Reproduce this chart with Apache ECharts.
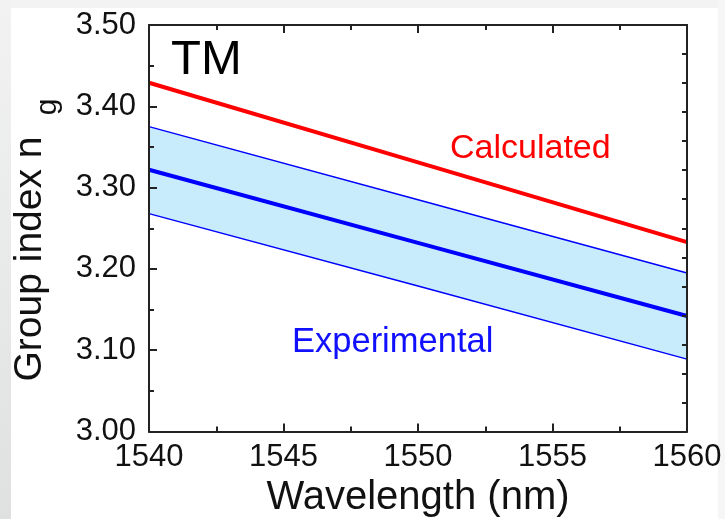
<!DOCTYPE html>
<html>
<head>
<meta charset="utf-8">
<script src="https://cdn.jsdelivr.net/npm/echarts@6/dist/echarts.min.js"></script>
<style>
  html, body { margin: 0; padding: 0; background: #fff; }
  #chart { width: 725px; height: 519px; }
</style>
</head>
<body>
<div id="chart"></div>
<script>
// wavelength (nm)
var wavelengths = [1540, 1550, 1560];
// group index values
var calculated = [3.429, 3.331, 3.233];
var expUpper = [3.375, 3.285, 3.195];
var expCenter = [3.322, 3.232, 3.142];
var expLower = [3.268, 3.179, 3.089];
var xTicks = [1540, 1545, 1550, 1555, 1560];
var yTicks = [3.0, 3.1, 3.2, 3.3, 3.4, 3.5];

var font = "Liberation Sans, Arial, sans-serif";
var axisColor = "#222";

function pairs(ys) {
  return wavelengths.map(function (x, i) {
    return [x, ys[i]];
  });
}

var tickStyle = { color: axisColor, width: 2 };

var chart = echarts.init(document.getElementById("chart"));
var option = {
  backgroundColor: "#fff",
  animation: false,
  grid: { left: 149, right: 38, top: 25, bottom: 87.5, outerBoundsMode: "none" },
  xAxis: [
    {
      type: "value",
      min: xTicks[0],
      max: xTicks[xTicks.length - 1],
      interval: 5,
      position: "bottom",
      z: 5,
      axisLine: { lineStyle: tickStyle },
      axisTick: { inside: true, length: 8, lineStyle: tickStyle },
      minorTick: { show: true, splitNumber: 2, length: 5, lineStyle: tickStyle },
      axisLabel: {
        color: "#111",
        fontSize: 31,
        fontFamily: font,
        margin: 10,
        formatter: function (v) {
          return String(v);
        },
      },
      splitLine: { show: false },
      name: "Wavelength (nm)",
      nameLocation: "middle",
      nameGap: 46,
      nameTextStyle: { color: "#111", fontSize: 40, fontFamily: font },
    },
    {
      type: "value",
      min: xTicks[0],
      max: xTicks[xTicks.length - 1],
      interval: 5,
      position: "top",
      z: 5,
      axisLine: { lineStyle: tickStyle },
      axisTick: { inside: true, length: 8, lineStyle: tickStyle },
      minorTick: { show: true, splitNumber: 2, length: 5, lineStyle: tickStyle },
      axisLabel: { show: false },
      splitLine: { show: false },
    },
  ],
  yAxis: [
    {
      type: "value",
      min: yTicks[0],
      max: yTicks[yTicks.length - 1],
      interval: 0.1,
      position: "left",
      z: 5,
      axisLine: { show: true, lineStyle: tickStyle },
      axisTick: { show: true, inside: true, length: 8, lineStyle: tickStyle },
      minorTick: { show: true, splitNumber: 2, length: 5, lineStyle: tickStyle },
      axisLabel: {
        color: "#111",
        fontSize: 31,
        fontFamily: font,
        margin: 13,
        formatter: function (v) {
          return v.toFixed(2);
        },
      },
      splitLine: { show: false },
    },
    {
      type: "value",
      min: 0,
      max: 14,
      interval: 1,
      position: "right",
      z: 5,
      axisLine: { show: true, lineStyle: tickStyle },
      axisTick: { show: true, inside: true, length: 5, lineStyle: tickStyle },
      axisLabel: { show: false },
      splitLine: { show: false },
    },
  ],
  series: [
    {
      // light blue fill under the upper bound
      name: "bandTop",
      type: "line",
      data: pairs(expUpper),
      symbol: "none",
      z: 1,
      lineStyle: { opacity: 0 },
      areaStyle: { color: "#c9ecfc", opacity: 1, origin: "start" },
      silent: true,
    },
    {
      // white fill under the lower bound, so only the band stays blue
      name: "bandBottom",
      type: "line",
      data: pairs(expLower),
      symbol: "none",
      z: 2,
      lineStyle: { opacity: 0 },
      areaStyle: { color: "#ffffff", opacity: 1, origin: "start" },
      silent: true,
    },
    {
      name: "Upper",
      type: "line",
      data: pairs(expUpper),
      symbol: "none",
      z: 3,
      lineStyle: { color: "#0000ff", width: 1.5 },
    },
    {
      name: "Lower",
      type: "line",
      data: pairs(expLower),
      symbol: "none",
      z: 3,
      lineStyle: { color: "#0000ff", width: 1.5 },
    },
    {
      name: "Experimental",
      type: "line",
      data: pairs(expCenter),
      symbol: "none",
      z: 3,
      lineStyle: { color: "#0000ff", width: 4 },
    },
    {
      name: "Calculated",
      type: "line",
      data: pairs(calculated),
      symbol: "none",
      z: 3,
      lineStyle: { color: "#ff0000", width: 4 },
    },
  ],
  graphic: [
    // grey frame around the picture
    { type: "rect", left: 0, top: 0, shape: { width: 725, height: 8 }, style: { fill: "#f3f3f3" }, z: -1 },
    {
      type: "rect",
      left: 0,
      top: 0,
      shape: { width: 11, height: 519 },
      style: {
        fill: new echarts.graphic.LinearGradient(0, 0, 0, 1, [
          { offset: 0, color: "#f2f2f2" },
          { offset: 1, color: "#dfe1e1" },
        ]),
      },
      z: -1,
    },
    { type: "rect", left: 718, top: 0, shape: { width: 7, height: 519 }, style: { fill: "#f6f6f6" }, z: -1 },
    {
      type: "text",
      x: 30,
      y: 259,
      z: 10,
      rotation: Math.PI / 2,
      style: { text: "Group index n", fill: "#111", font: "39px " + font, align: "center", verticalAlign: "middle" },
    },
    {
      type: "text",
      x: 48,
      y: 107,
      z: 10,
      rotation: Math.PI / 2,
      style: { text: "g", fill: "#111", font: "30px " + font, align: "center", verticalAlign: "middle" },
    },
    {
      type: "text",
      x: 171,
      y: 60,
      z: 10,
      style: { text: "TM", fill: "#000", font: "49px " + font, align: "left", verticalAlign: "middle" },
    },
    {
      type: "text",
      x: 450,
      y: 149,
      z: 10,
      style: { text: "Calculated", fill: "#ff0000", font: "34px " + font, align: "left", verticalAlign: "middle" },
    },
    {
      type: "text",
      x: 292,
      y: 342,
      z: 10,
      style: { text: "Experimental", fill: "#1010ff", font: "34.5px " + font, align: "left", verticalAlign: "middle" },
    },
  ],
};
chart.setOption(option);
window.addEventListener("resize", function () {
  chart.resize();
});
</script>
</body>
</html>
